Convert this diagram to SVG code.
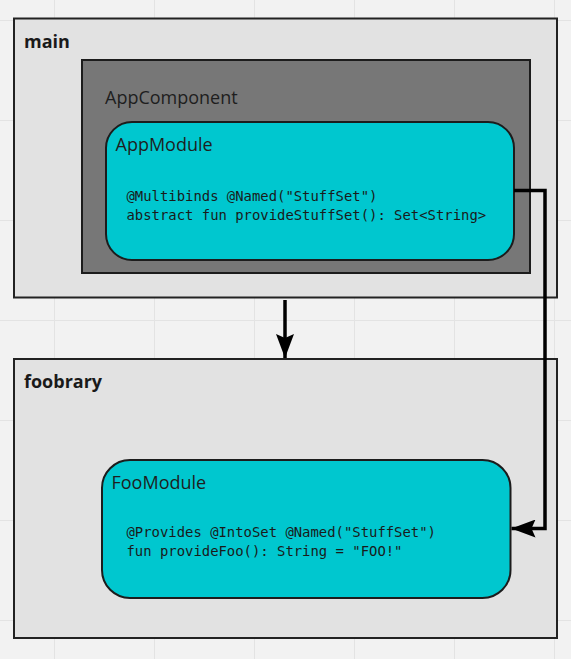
<svg xmlns="http://www.w3.org/2000/svg" width="571" height="659" viewBox="0 0 571 659">
<defs>
<pattern id="grid" x="54" y="20" width="100" height="100" patternUnits="userSpaceOnUse">
<path d="M0 0V100M0 0H100" fill="none" stroke="#e3e3e3" stroke-width="2"/>
</pattern>
<marker id="ah" viewBox="0 0 24 18" refX="24" refY="9" markerWidth="24" markerHeight="18" markerUnits="userSpaceOnUse" orient="auto">
<path d="M0 0L24 9L0 18L4 9Z" fill="#000"/>
</marker>
</defs>
<style>
.pkg{fill:#e2e2e2;stroke:#222;stroke-width:2}
.comp{fill:#777;stroke:#1c1c1c;stroke-width:2}
.mod{fill:#00c7cf;stroke:#1c1c1c;stroke-width:2}
.title{font-family:"Open Sans",sans-serif;font-size:18px;font-weight:bold;fill:#1a1a1a}
.label{font-family:"Open Sans",sans-serif;font-size:18px;fill:#1e1e1e}
.code{font-family:"DejaVu Sans Mono","Liberation Mono",monospace;font-size:13.9px;fill:#1a1a1a}
.conn{fill:none;stroke:#000;stroke-width:3.5}
</style>
<rect width="571" height="659" fill="#f2f2f2"/>
<rect width="571" height="659" fill="url(#grid)"/>
<g id="main">
<rect class="pkg" x="14" y="18.5" width="543" height="279"/>
<text class="title" x="24" y="48">main</text>
</g>
<g id="AppComponent">
<rect class="comp" x="82" y="60" width="448" height="213"/>
<text class="label" x="105" y="104">AppComponent</text>
</g>
<g id="AppModule">
<rect class="mod" x="106" y="122" width="408" height="138" rx="26" ry="26"/>
<text class="label" x="115.5" y="151">AppModule</text>
<text class="code" x="126.5" y="201">@Multibinds @Named("StuffSet")</text>
<text class="code" x="126.5" y="220">abstract fun provideStuffSet(): Set&lt;String&gt;</text>
</g>
<g id="foobrary">
<rect class="pkg" x="14" y="359" width="543" height="279"/>
<text class="title" x="24" y="388">foobrary</text>
</g>
<g id="FooModule">
<rect class="mod" x="102" y="460" width="408.5" height="138" rx="28" ry="28"/>
<text class="label" x="111.5" y="489">FooModule</text>
<text class="code" x="126.5" y="537">@Provides @IntoSet @Named("StuffSet")</text>
<text class="code" x="126.5" y="556">fun provideFoo(): String = "FOO!"</text>
</g>
<g id="connectors">
<path class="conn" d="M285 300V358" marker-end="url(#ah)"/>
<path class="conn" d="M514 190.5H545V528.5H511.5" marker-end="url(#ah)"/>
</g>
</svg>
